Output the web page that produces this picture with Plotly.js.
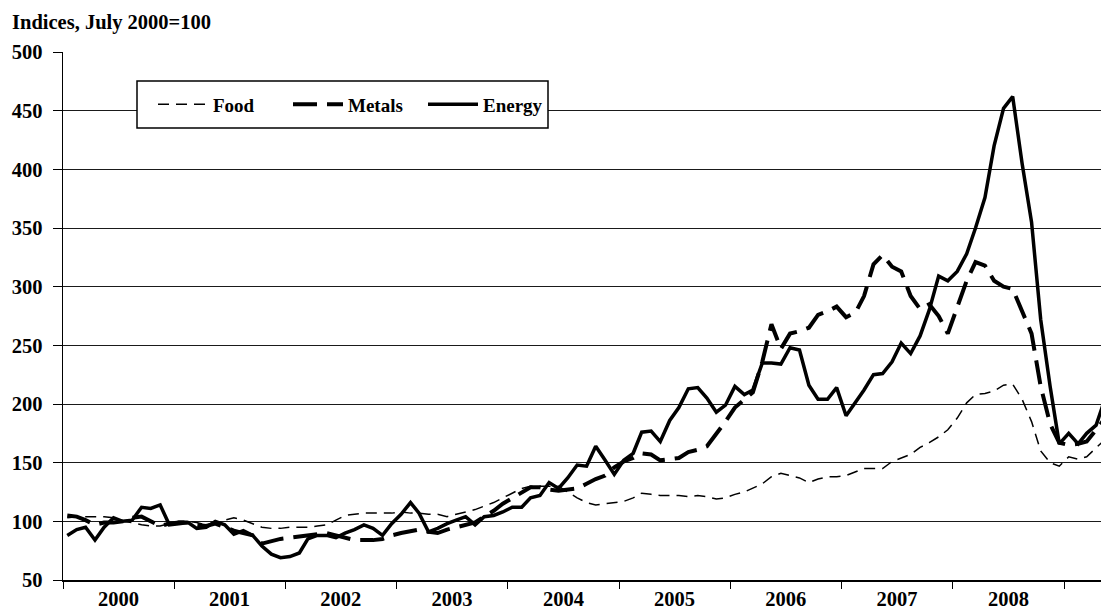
<!DOCTYPE html>
<html>
<head>
<meta charset="utf-8">
<script src="https://cdn.plot.ly/plotly-3.0.1.min.js"></script>
<style>html,body{margin:0;padding:0;background:#fff;}#chart{width:1101px;height:614px;}</style>
</head>
<body>
<div id="chart"></div>
<script>
// Monthly indices, July 2000 = 100, Jan 2000 .. May 2009
const startYear = 2000;
const years = ['2000','2001','2002','2003','2004','2005','2006','2007','2008'];

const food = [
  103,104,104,104,104,103,100, 99, 97, 96, 96, 98,
  100,100, 99, 97, 98,101,103,101, 98, 95, 94, 94,
   95, 95, 95, 96, 97,101,105,106,107,107,107,107,
  108,107,107,106,106,104,106,108,110,113,116,120,
  124,128,130,130,130,130,125,120,116,114,115,116,
  117,120,124,123,122,122,122,121,122,121,119,120,
  123,125,128,132,138,141,139,137,133,136,138,138,
  139,142,145,145,145,151,154,157,163,167,172,178,
  188,201,208,209,211,216,217,204,185,160,150,147,
  155,153,155,163,170
];
const metals = [
  105,104,101, 97, 99, 99,100,103,104,100, 96, 98,
   99, 99, 97, 96, 98, 95, 92, 90, 88, 81, 83, 85,
   86, 87, 88, 89, 90, 88, 86, 84, 84, 84, 85, 88,
   90, 92, 93, 91, 90, 93, 95, 97, 99,104,109,115,
  120,124,129,129,127,126,127,128,132,136,139,146,
  151,154,158,157,152,153,154,159,161,164,174,185,
  197,204,210,236,268,247,260,262,265,276,279,283,
  274,278,292,319,327,317,313,292,281,285,275,260,
  282,305,321,318,305,300,298,280,260,215,183,167,
  165,166,168,178,188
];
const energy = [
   88, 93, 95, 84, 95,103,100,101,112,111,114, 97,
   98, 99, 94, 95,100, 97, 89, 92, 88, 79, 72, 69,
   70, 73, 85, 88, 88, 86, 90, 93, 97, 94, 88, 98,
  106,116,107, 91, 94, 98,101,104, 97,104,105,108,
  112,112,120,122,133,128,137,148,147,164,152,140,
  152,158,176,177,168,186,197,213,214,205,193,199,
  215,208,212,235,235,234,248,246,216,204,204,214,
  190,201,212,225,226,236,252,243,258,280,309,305,
  313,328,350,376,420,452,462,405,355,272,215,166,
  175,166,175,182,205
];

// mid-month dates for each observation
const months = energy.map((_, i) => {
  const y = startYear + Math.floor(i / 12);
  const m = (i % 12) + 1;
  return y + '-' + String(m).padStart(2, '0') + '-15';
});
const yearMid = years.map(y => y + '-07-01');

const fam = '"Liberation Serif", "Times New Roman", serif';
const font = {family: fam, size: 20.5, color: '#000'};

const traces = [
  {name: 'Food', x: months, y: food, mode: 'lines', type: 'scatter',
   line: {color: '#000', width: 1.5, dash: '11px,7px'}},
  {name: 'Metals', x: months, y: metals, mode: 'lines', type: 'scatter',
   line: {color: '#000', width: 4, dash: '24px,10px'}},
  {name: 'Energy', x: months, y: energy, mode: 'lines', type: 'scatter',
   line: {color: '#000', width: 3.5}}
];
traces.forEach(t => t.name = '<b>' + t.name + '</b>');

const layout = {
  width: 1101, height: 614,
  margin: {l: 63, r: 0, t: 52, b: 34},
  paper_bgcolor: '#fff', plot_bgcolor: '#fff',
  font: font,
  title: {text: '<b>Indices, July 2000=100</b>', x: 12/1101, xanchor: 'left',
          y: 1 - 22/614, yanchor: 'middle', font: font},
  xaxis: {
    type: 'date', range: ['2000-01-01', '2009-05-01'],
    tickmode: 'array', tickvals: yearMid, ticktext: years.map(y => '<b>' + y + '</b>'),
    ticks: '', showgrid: false, zeroline: false,
    showline: true, linecolor: '#000', linewidth: 1.5,
    tickfont: font,
    minor: {ticks: 'outside', ticklen: 7, tickwidth: 1, tickcolor: '#000',
            tick0: '2000-01-01', dtick: 'M12', showgrid: false},
    fixedrange: true
  },
  yaxis: {
    range: [50, 500], tickmode: 'array',
    tickvals: [50,100,150,200,250,300,350,400,450,500],
    ticktext: ['50','100','150','200','250','300','350','400','450','500'].map(t => '<b>' + t + '</b>'),
    ticks: 'outside', ticklen: 9, tickwidth: 1, tickcolor: '#000',
    ticklabelstandoff: 6,
    showgrid: true, gridcolor: '#1a1a1a', gridwidth: 1,
    zeroline: false, showline: true, linecolor: '#000', linewidth: 1.5,
    tickfont: font, fixedrange: true
  },
  shapes: [
    {type: 'rect', xref: 'paper', yref: 'paper', layer: 'above',
     x0: (137-63)/1038, x1: (548-63)/1038, y0: (580-128)/528, y1: (580-81)/528,
     fillcolor: '#fff', line: {color: '#000', width: 1.5}}
  ],
  showlegend: true,
  legend: {
    orientation: 'h', x: (153-63)/1038, xanchor: 'left', y: (580-104.5)/528, yanchor: 'middle',
    bgcolor: 'rgba(0,0,0,0)', borderwidth: 0,
    font: {family: fam, size: 19, color: '#000'},
    entrywidth: 70, entrywidthmode: 'pixels', itemwidth: 50
  }
};

Plotly.newPlot('chart', traces, layout, {displayModeBar: false, staticPlot: true});
</script>
</body>
</html>
